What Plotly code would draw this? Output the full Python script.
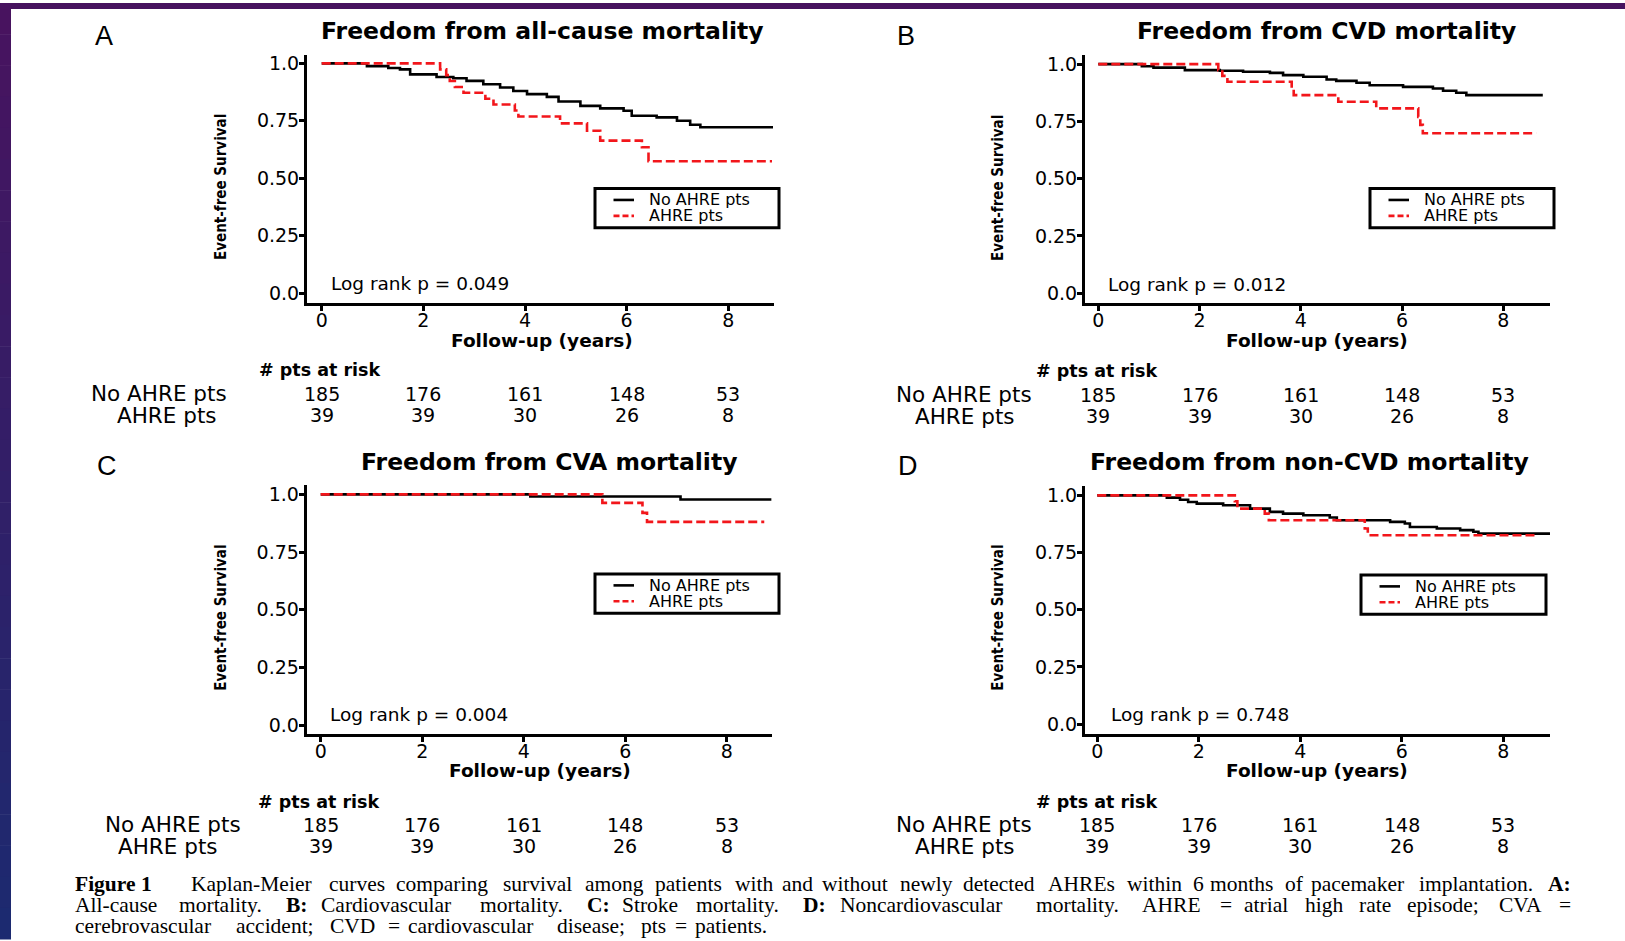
import plotly.graph_objects as go

W, H = 1625, 941

# ------------------------------------------------------------------ data
panel_letters = ["A", "B", "C", "D"]
panel_titles = ["Freedom from all-cause mortality", "Freedom from CVD mortality",
                "Freedom from CVA mortality", "Freedom from non-CVD mortality"]
logrank_p = ["0.049", "0.012", "0.004", "0.748"]
group_names = ["No AHRE pts", "AHRE pts"]

# Panel A - all-cause mortality
a_no_t = [0, 0.89, 1.31, 1.54, 1.74, 2.26, 2.59, 2.85, 3.18, 3.51, 3.77, 4.04, 4.43, 4.66,
          5.09, 5.48, 5.94, 6.10, 6.59, 6.99, 7.25, 7.45, 8.88]
a_no_s = [1.0, 0.988, 0.980, 0.974, 0.952, 0.941, 0.935, 0.924, 0.909, 0.895, 0.880, 0.866,
          0.854, 0.834, 0.815, 0.804, 0.794, 0.772, 0.765, 0.750, 0.733, 0.722, 0.722]
a_ah_t = [0, 2.33, 2.45, 2.52, 2.62, 2.79, 3.22, 3.38, 3.80, 3.87, 4.69, 5.22, 5.48, 6.30,
          6.43, 8.86]
a_ah_s = [1.0, 0.974, 0.949, 0.923, 0.897, 0.872, 0.846, 0.821, 0.795, 0.769, 0.739, 0.707,
          0.664, 0.635, 0.574, 0.574]

# Panel B - CVD mortality
b_no_t = [0, 0.86, 1.09, 1.71, 2.40, 2.86, 3.39, 3.65, 4.05, 4.51, 4.70, 5.10, 5.36, 6.02,
          6.61, 6.81, 7.07, 7.27, 8.78]
b_no_s = [1.0, 0.991, 0.985, 0.974, 0.971, 0.967, 0.962, 0.952, 0.945, 0.933, 0.927, 0.919,
          0.908, 0.901, 0.894, 0.884, 0.875, 0.865, 0.865]
b_ah_t = [0, 2.37, 2.45, 2.55, 3.82, 3.86, 4.74, 5.49, 6.32, 6.36, 6.41, 8.65]
b_ah_s = [1.0, 0.974, 0.949, 0.923, 0.894, 0.865, 0.836, 0.807, 0.770, 0.735, 0.698, 0.698]

# Panel C - CVA mortality
c_no_t = [0, 4.13, 7.09, 8.88]
c_no_s = [1.0, 0.991, 0.978, 0.978]
c_ah_t = [0, 5.55, 6.34, 6.43, 8.74]
c_ah_s = [1.0, 0.963, 0.920, 0.881, 0.881]

# Panel D - non-CVD mortality
d_no_t = [0, 1.37, 1.63, 1.79, 1.96, 2.48, 3.01, 3.40, 3.66, 4.06, 4.58, 4.72, 5.77, 6.06,
          6.16, 6.69, 7.15, 7.41, 7.51, 8.92]
d_no_s = [1.0, 0.990, 0.981, 0.971, 0.964, 0.957, 0.942, 0.928, 0.920, 0.913, 0.903, 0.891,
          0.884, 0.877, 0.862, 0.855, 0.848, 0.841, 0.833, 0.833]
d_ah_t = [0, 2.71, 2.76, 3.30, 3.38, 5.27, 5.33, 8.69]
d_ah_s = [1.0, 0.974, 0.942, 0.920, 0.891, 0.855, 0.826, 0.826]

curves = [((a_no_t, a_no_s), (a_ah_t, a_ah_s)),
          ((b_no_t, b_no_s), (b_ah_t, b_ah_s)),
          ((c_no_t, c_no_s), (c_ah_t, c_ah_s)),
          ((d_no_t, d_no_s), (d_ah_t, d_ah_s))]

risk_times = [0, 2, 4, 6, 8]
risk_no_ahre = [185, 176, 161, 148, 53]
risk_ahre = [39, 39, 30, 26, 8]

y_tickvals = [0, 0.25, 0.5, 0.75, 1.0]
y_ticktext = ["0.0", "0.25", "0.50", "0.75", "1.0"]
x_tickvals = [0, 2, 4, 6, 8]

caption_line1 = ("Kaplan-Meier curves comparing survival among patients with and without newly "
                 "detected AHREs within 6 months of pacemaker implantation. A:")
caption_line2 = ("All-cause mortality. B: Cardiovascular mortality. C: Stroke mortality. "
                 "D: Noncardiovascular mortality. AHRE = atrial high rate episode; CVA =")
caption_line3 = "cerebrovascular accident; CVD = cardiovascular disease; pts = patients."
caption_bold = {"A:", "B:", "C:", "D:"}

# ------------------------------------------------------------------ geometry (pixels)
# left, right, top, bottom of axes; pixel of x=0, x=8; pixel of y=0, y=1
geom = [
    dict(l=307, r=774, t=52, b=301.7, x0=321.7, x8=728.3, y0=291.7, y1=60.7),
    dict(l=1085, r=1550, t=52, b=301.7, x0=1098.3, x8=1503.3, y0=291.7, y1=61.5),
    dict(l=306.7, r=772, t=485, b=735, x0=320.7, x8=726.7, y0=726, y1=494),
    dict(l=1085, r=1550, t=486, b=735, x0=1097.3, x8=1503.3, y0=725, y1=495),
]
letter_pos = [(103.6, 33), (905.8, 33), (106.7, 465), (908, 465)]
title_pos = [(542, 28), (1326.6, 28), (549, 461), (1309, 461)]
ytitle_pos = [(221, 185), (998, 186), (221, 618), (998, 618)]
xtitle_pos = [(541.5, 339), (1317, 339), (540, 772), (1317, 772)]
logrank_pos = [(328.5, 282), (1106, 283), (327.5, 715), (1109, 715)]
risk_hdr_pos = [(257, 369), (1034, 370), (256, 803), (1034, 803)]
row1_pos = [(229, 393), (1034, 394), (242.5, 826), (1034, 826)]
row2_pos = [(218.7, 414.6), (1016.7, 415.6), (219.7, 847.8), (1016.7, 847.8)]
legend_box = [(595, 186.5, 184), (1370, 186.5, 184), (595, 574, 184), (1361, 575, 185)]

SANS = "DejaVu Sans, Verdana, sans-serif"
NARROW = "Liberation Sans Narrow, Arial Narrow, DejaVu Sans Condensed, sans-serif"
SERIF = "Liberation Serif, Times New Roman, serif"
LETTER = "Liberation Sans, Arial, sans-serif"
RED = "#f2161b"
LW = 2.6


def pxx(x):
    return x / W


def pxy(y):
    return 1 - y / H


fig = go.Figure()
annotations = []
shapes = []
layout_axes = {}


def ann(text, pos, size, family=SANS, xanchor="center", angle=0):
    annotations.append(dict(text=text, x=pxx(pos[0]), y=pxy(pos[1]), xref="paper",
                            yref="paper", xanchor=xanchor, yanchor="middle",
                            showarrow=False, textangle=angle,
                            font=dict(family=family, size=size, color="black")))


for i in range(4):
    g = geom[i]
    sfx = "" if i == 0 else str(i + 1)
    xa, ya = "x" + sfx, "y" + sfx
    sx = (g["x8"] - g["x0"]) / 8.0
    sy = g["y0"] - g["y1"]
    xrange_ = [(g["l"] - g["x0"]) / sx, (g["r"] - g["x0"]) / sx]
    yrange_ = [(g["y0"] - g["b"]) / sy, (g["y0"] - g["t"]) / sy]

    (nt, ns), (at, as_) = curves[i]
    fig.add_trace(go.Scatter(x=nt, y=ns, mode="lines", name=group_names[0],
                             line=dict(shape="hv", color="black", width=LW),
                             xaxis=xa, yaxis=ya, showlegend=False, hoverinfo="skip"))
    fig.add_trace(go.Scatter(x=at, y=as_, mode="lines", name=group_names[1],
                             line=dict(shape="hv", color=RED, width=LW, dash="9px,4px"),
                             xaxis=xa, yaxis=ya, showlegend=False, hoverinfo="skip"))

    axcommon = dict(showline=True, linecolor="black", linewidth=3, ticks="outside",
                    ticklen=5, tickwidth=2.5, tickcolor="black", showgrid=False,
                    zeroline=False, fixedrange=True,
                    tickfont=dict(family=SANS, size=19, color="black"))
    layout_axes["xaxis" + sfx] = dict(axcommon, domain=[pxx(g["l"]), pxx(g["r"])],
                                      range=xrange_, anchor=ya, tickvals=x_tickvals,
                                      ticktext=[str(v) for v in x_tickvals],
                                      ticklabelstandoff=-7)
    layout_axes["yaxis" + sfx] = dict(axcommon, domain=[pxy(g["b"]), pxy(g["t"])],
                                      range=yrange_, anchor=xa, tickvals=y_tickvals,
                                      ticktext=y_ticktext, ticklabelstandoff=-4)

    # legend box (key for the two curves)
    L, T, BW = legend_box[i]
    shapes.append(dict(type="rect", xref="paper", yref="paper", x0=pxx(L), x1=pxx(L + BW),
                       y0=pxy(T + 39.5), y1=pxy(T), line=dict(color="black", width=3),
                       fillcolor="white", layer="above"))
    shapes.append(dict(type="line", xref="paper", yref="paper", x0=pxx(L + 18.5),
                       x1=pxx(L + 39), y0=pxy(T + 11.5), y1=pxy(T + 11.5),
                       line=dict(color="black", width=LW), layer="above"))
    shapes.append(dict(type="line", xref="paper", yref="paper", x0=pxx(L + 18.5),
                       x1=pxx(L + 39), y0=pxy(T + 27.5), y1=pxy(T + 27.5),
                       line=dict(color=RED, width=LW, dash="6px,3px"), layer="above"))
    ann(group_names[0], (L + 52, T + 11.5), 16, xanchor="left")
    ann(group_names[1], (L + 52, T + 27.5), 16, xanchor="left")

    ann(panel_letters[i], letter_pos[i], 27, family=LETTER)
    ann("<b>" + panel_titles[i] + "</b>", title_pos[i], 23.5)
    ann("<b>Event-free Survival</b>", ytitle_pos[i], 15, family=NARROW, angle=-90)
    ann("<b>Follow-up (years)</b>", xtitle_pos[i], 18.5)
    ann("Log rank p = " + logrank_p[i], logrank_pos[i], 18.5, xanchor="left")
    ann("<b># pts at risk</b>", risk_hdr_pos[i], 17.5, xanchor="left")
    ann(group_names[0], row1_pos[i], 21.5, xanchor="right")
    ann(group_names[1], row2_pos[i], 21.5, xanchor="right")
    for t, n1, n2 in zip(risk_times, risk_no_ahre, risk_ahre):
        for val, yy in ((n1, row1_pos[i][1]), (n2, row2_pos[i][1])):
            annotations.append(dict(text=str(val), x=t, xref=xa, y=pxy(yy), yref="paper",
                                    xanchor="center", yanchor="middle", showarrow=False,
                                    font=dict(family=SANS, size=19, color="black")))

# ------------------------------------------------------------------ caption
# Times-Roman glyph widths (per 1000 em) for positioning justified words
_tr = {" ": 250, ".": 250, ",": 250, ":": 278, ";": 278, "-": 333, "=": 564, "(": 333,
       ")": 333}
for ch in "0123456789":
    _tr[ch] = 500
for ch, w in zip("ABCDEFGHIJKLMNOPQRSTUVWXYZ",
                 [722, 667, 667, 722, 611, 556, 722, 722, 333, 389, 722, 611, 889, 722, 722,
                  556, 722, 667, 556, 611, 722, 722, 944, 722, 722, 611]):
    _tr[ch] = w
for ch, w in zip("abcdefghijklmnopqrstuvwxyz",
                 [444, 500, 444, 500, 444, 333, 500, 500, 278, 278, 500, 278, 778, 500, 500,
                  500, 500, 333, 389, 278, 500, 500, 722, 500, 500, 444]):
    _tr[ch] = w


def word_w(word, size, bold=False):
    w = sum(_tr.get(c, 500) for c in word) / 1000.0 * size
    return w * (1.06 if bold else 1.0)


CAP_RENDER = 21.5
CAP_VIRTUAL = 24.5


def place_words(text, left, right, y, justify):
    words = text.split(" ")
    bolds = [w in caption_bold for w in words]
    widths = [word_w(w, CAP_VIRTUAL, b) for w, b in zip(words, bolds)]
    n = len(words)
    if justify and n > 1:
        min_gap = 0.22 * CAP_VIRTUAL
        avail = right - left
        if sum(widths) + (n - 1) * min_gap > avail:
            f = (avail - (n - 1) * min_gap) / sum(widths)
            widths = [w * f for w in widths]
            gap = min_gap
        else:
            gap = (avail - sum(widths)) / (n - 1)
    else:
        gap = 0.25 * CAP_VIRTUAL
    x = left
    for k, (w, b, wd) in enumerate(zip(words, bolds, widths)):
        last = justify and k == n - 1
        annotations.append(dict(text=("<b>%s</b>" % w) if b else w,
                                x=pxx(right if last else x), y=pxy(y),
                                xref="paper", yref="paper",
                                xanchor="right" if last else "left",
                                yanchor="middle", showarrow=False,
                                font=dict(family=SERIF, size=CAP_RENDER, color="black")))
        x += wd + gap


cap_left, cap_right = 72.5, 1573.3
annotations.append(dict(text="<b>Figure 1</b>", x=pxx(cap_left), y=pxy(886), xref="paper",
                        yref="paper", xanchor="left", yanchor="middle", showarrow=False,
                        font=dict(family=SERIF, size=CAP_RENDER, color="black")))
place_words(caption_line1, 188.6, cap_right, 886, True)
place_words(caption_line2, cap_left, cap_right, 907, True)
place_words(caption_line3, cap_left, cap_right, 927.6, False)

# ------------------------------------------------------------------ slide border
shapes.append(dict(type="rect", xref="paper", yref="paper", x0=0, x1=1, y0=pxy(6), y1=1,
                   line=dict(width=0), fillcolor="#46125e", layer="above"))
nseg = 30
c_top, c_bot = (72, 19, 95), (28, 42, 112)
for k in range(nseg):
    f = k / (nseg - 1)
    col = tuple(int(round(c_top[j] + (c_bot[j] - c_top[j]) * f)) for j in range(3))
    shapes.append(dict(type="rect", xref="paper", yref="paper", x0=0, x1=pxx(11),
                       y0=pxy(H * (k + 1) / nseg + 0.5), y1=pxy(H * k / nseg),
                       line=dict(width=0), fillcolor="rgb(%d,%d,%d)" % col, layer="above"))

fig.update_layout(width=W, height=H, margin=dict(l=0, r=0, t=0, b=0),
                  paper_bgcolor="white", plot_bgcolor="white", showlegend=False,
                  annotations=annotations, shapes=shapes, **layout_axes)

fig.write_html("out.html", config={"displayModeBar": False},
               post_script="document.body.style.margin='0px';"
                           "document.body.style.overflow='hidden';")
